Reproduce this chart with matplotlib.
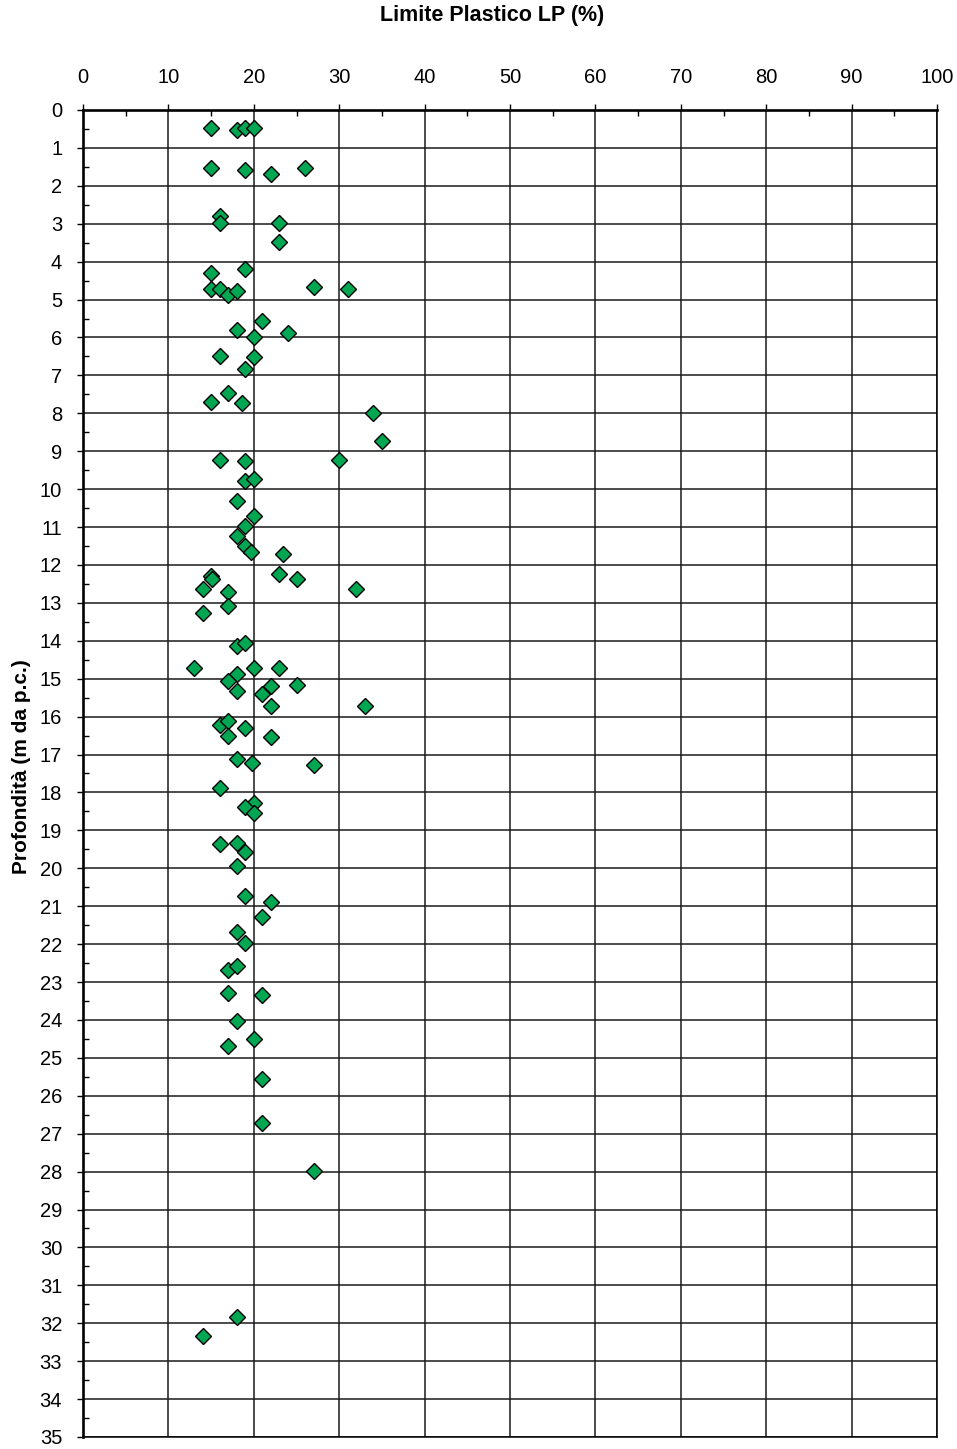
import matplotlib.pyplot as plt
from matplotlib.ticker import MultipleLocator

plt.rcParams['font.family'] = ['Liberation Sans', 'DejaVu Sans']

# Limite Plastico LP (%) e profondita' (m da p.c.)
lp = [15, 18, 19, 20, 15, 19, 22, 26, 16, 16, 23, 23, 15, 19, 15, 16, 17, 18, 27, 31,
      21, 18, 20, 24, 16, 20, 19, 17, 15, 18.6, 34, 35, 16, 19, 30, 19, 20, 18, 20, 19,
      18, 19, 19.7, 23.4, 15, 15.1, 23, 25.1, 14, 17, 32, 17, 14, 18, 19, 13, 20, 23,
      18, 17, 18, 21, 22, 25, 22, 33, 16, 17, 19, 17, 22, 18, 19.8, 27, 16, 20, 19, 20,
      16, 18, 19, 18, 19, 22, 21, 18, 19, 17, 18, 17, 21, 18, 20, 17, 21, 21, 27, 18, 14]
depth = [0.47, 0.53, 0.47, 0.47, 1.52, 1.57, 1.69, 1.54, 2.80, 2.97, 2.97, 3.47, 4.31, 4.20,
         4.72, 4.72, 4.88, 4.77, 4.68, 4.72, 5.57, 5.80, 5.98, 5.87, 6.48, 6.52, 6.84, 7.47,
         7.69, 7.72, 7.98, 8.72, 9.23, 9.26, 9.23, 9.78, 9.72, 10.31, 10.72, 10.97, 11.23,
         11.49, 11.67, 11.71, 12.28, 12.37, 12.25, 12.38, 12.64, 12.72, 12.64, 13.08, 13.26,
         14.13, 14.07, 14.71, 14.71, 14.71, 14.88, 15.06, 15.33, 15.39, 15.19, 15.17, 15.72,
         15.72, 16.22, 16.12, 16.29, 16.51, 16.53, 17.13, 17.23, 17.28, 17.88, 18.27, 18.38,
         18.54, 19.37, 19.33, 19.58, 19.93, 20.73, 20.89, 21.28, 21.67, 21.98, 22.69, 22.57,
         23.30, 23.33, 24.03, 24.49, 24.69, 25.57, 26.73, 27.99, 31.83, 32.34]

fig = plt.figure(figsize=(9.57, 14.49), dpi=100)
ax = fig.add_axes([83 / 957, 1 - 1437 / 1449, 854 / 957, 1327 / 1449])

ax.plot(lp, depth, linestyle='none', marker='D', markersize=8.5,
        markerfacecolor='#00a651', markeredgecolor='black', markeredgewidth=1.0, zorder=3)

ax.set_xlim(0, 100)
ax.set_ylim(35, 0)
ax.xaxis.set_major_locator(MultipleLocator(10))
ax.xaxis.set_minor_locator(MultipleLocator(5))
ax.yaxis.set_major_locator(MultipleLocator(1))
ax.yaxis.set_minor_locator(MultipleLocator(0.5))
ax.xaxis.tick_top()
ax.tick_params(axis='both', which='major', direction='out', length=4.5, width=1,
               labelsize=14.5, color='black')
ax.tick_params(axis='both', which='minor', direction='in', length=4, width=1, color='black')
ax.tick_params(axis='x', which='both', top=True, bottom=False, pad=12)
ax.tick_params(axis='y', which='both', left=True, right=False, pad=10.5)

ax.grid(True, which='major', color='#1a1a1a', linewidth=1.1)
ax.set_axisbelow(True)
for side in ['right', 'bottom']:
    ax.spines[side].set_linewidth(1.1)
for side in ['top', 'left']:
    ax.spines[side].set_linewidth(1.9)

fig.text(492 / 957, 1 - 16 / 1449, 'Limite Plastico LP (%)', ha='center', va='center',
         fontsize=15.5, fontweight='bold')
ax.set_ylabel('Profondità (m da p.c.)', fontsize=15, fontweight='bold')
ax.yaxis.set_label_coords(-0.061, 0.505)

fig.savefig('out.png', dpi=100)
